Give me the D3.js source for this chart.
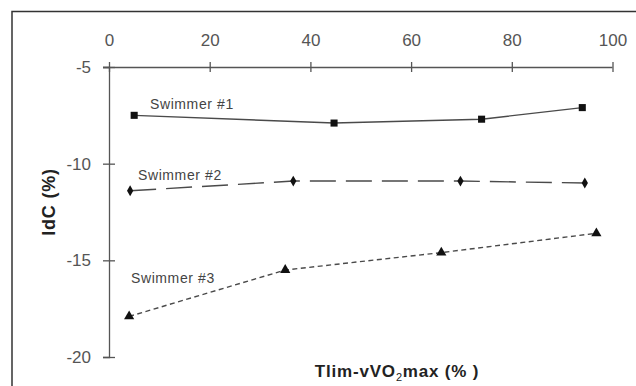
<!DOCTYPE html>
<html>
<head>
<meta charset="utf-8">
<script src="https://cdn.jsdelivr.net/npm/d3@7"></script>
<style>
  body { margin: 0; background: #fff; }
  svg { display: block; font-family: "Liberation Sans", Arial, sans-serif; }
</style>
</head>
<body>
<svg id="chart"></svg>
<script>
var screen = {width: 636, height: 386};

// values
var xTicks = [0, 20, 40, 60, 80, 100];
var yTicks = [-5, -10, -15, -20];
var seriesNames = ["Swimmer #1", "Swimmer #2", "Swimmer #3"];
var xSwimmer1 = [5, 44.7, 74, 94];
var ySwimmer1 = [-7.5, -7.9, -7.7, -7.1];
var xSwimmer2 = [4.2, 36.6, 69.8, 94.5];
var ySwimmer2 = [-11.4, -10.9, -10.9, -11.0];
var xSwimmer3 = [4, 35, 66, 96.8];
var ySwimmer3 = [-17.9, -15.5, -14.6, -13.6];

var svg = d3.select("#chart")
    .attr("width", screen.width)
    .attr("height", screen.height);

var xScale = d3.scaleLinear().domain([0, 100]).range([109, 612.5]);
var yScale = d3.scaleLinear().domain([-5, -20]).range([67, 357]);

// plain hyphen for negatives, like the original
var plain = function(d) { return String(d); };

// frame (left + top edges only)
svg.append("path")
    .attr("d", "M12,386 L12,11.5 L636,11.5")
    .attr("fill", "none")
    .attr("stroke", "#333")
    .attr("stroke-width", 1.5);

// x axis on top
var xAxis = svg.append("g")
    .attr("transform", "translate(0," + yScale(-5) + ")")
    .call(d3.axisTop(xScale).tickValues(xTicks).tickFormat(plain).tickSizeOuter(0).tickSize(5).tickPadding(16));
xAxis.selectAll(".tick line").attr("y1", 5).attr("y2", -5);

// y axis
var yAxis = svg.append("g")
    .attr("transform", "translate(" + xScale(0) + ",0)")
    .call(d3.axisLeft(yScale).tickValues(yTicks).tickFormat(plain).tickSizeOuter(0).tickSize(6).tickPadding(12));
yAxis.selectAll(".tick line").attr("x1", 6).attr("x2", -6);

svg.selectAll(".domain").attr("stroke", "#555").attr("stroke-width", 1.3);
svg.selectAll(".tick line").attr("stroke", "#555").attr("stroke-width", 1.3);
svg.selectAll(".tick text")
    .attr("fill", "#555")
    .style("font-size", "17px");
xAxis.select(".domain").attr("d", "M103,0.5H" + xScale(100));

// series
var series = [
    {name: seriesNames[0], xs: xSwimmer1, ys: ySwimmer1, dash: null, symbol: d3.symbolSquare, size: 50, lx: 150, ly: 109},
    {name: seriesNames[1], xs: xSwimmer2, ys: ySwimmer2, dash: "26,10", symbol: d3.symbolDiamond, size: 34, lx: 138, ly: 180},
    {name: seriesNames[2], xs: xSwimmer3, ys: ySwimmer3, dash: "5,3.5", symbol: d3.symbolTriangle, size: 45, lx: 131, ly: 283}
];

var line = d3.line()
    .x(function(d) { return xScale(d[0]); })
    .y(function(d) { return yScale(d[1]); });

series.forEach(function(s) {
    var pts = s.xs.map(function(x, i) { return [x, s.ys[i]]; });

    svg.append("path")
        .datum(pts)
        .attr("fill", "none")
        .attr("stroke", "#4a4a4a")
        .attr("stroke-width", 1.4)
        .attr("stroke-dasharray", s.dash)
        .attr("d", line);

    svg.append("g")
        .selectAll("path")
        .data(pts)
        .enter()
        .append("path")
        .attr("transform", function(d) { return "translate(" + xScale(d[0]) + "," + yScale(d[1]) + ")"; })
        .attr("d", d3.symbol().type(s.symbol).size(s.size))
        .attr("fill", "#111");

    svg.append("text")
        .attr("x", s.lx)
        .attr("y", s.ly)
        .attr("fill", "#444")
        .style("font-size", "14px")
        .style("letter-spacing", "0.6px")
        .text(s.name);
});

// axis titles
var xt = svg.append("text")
    .attr("x", 397)
    .attr("y", 377)
    .attr("text-anchor", "middle")
    .attr("fill", "#222")
    .style("font-size", "17px")
    .style("font-weight", "bold")
    .style("letter-spacing", "0.8px");
xt.append("tspan").text("Tlim-vVO");
xt.append("tspan").attr("dy", 4).style("font-size", "11px").style("font-weight", "normal").text("2");
xt.append("tspan").attr("dy", -4).text("max (% )");

svg.append("text")
    .attr("transform", "translate(55,202) rotate(-90)")
    .attr("text-anchor", "middle")
    .attr("fill", "#222")
    .style("font-size", "18px")
    .style("font-weight", "bold")
    .style("letter-spacing", "0.8px")
    .text("IdC (%)");
</script>
</body>
</html>
